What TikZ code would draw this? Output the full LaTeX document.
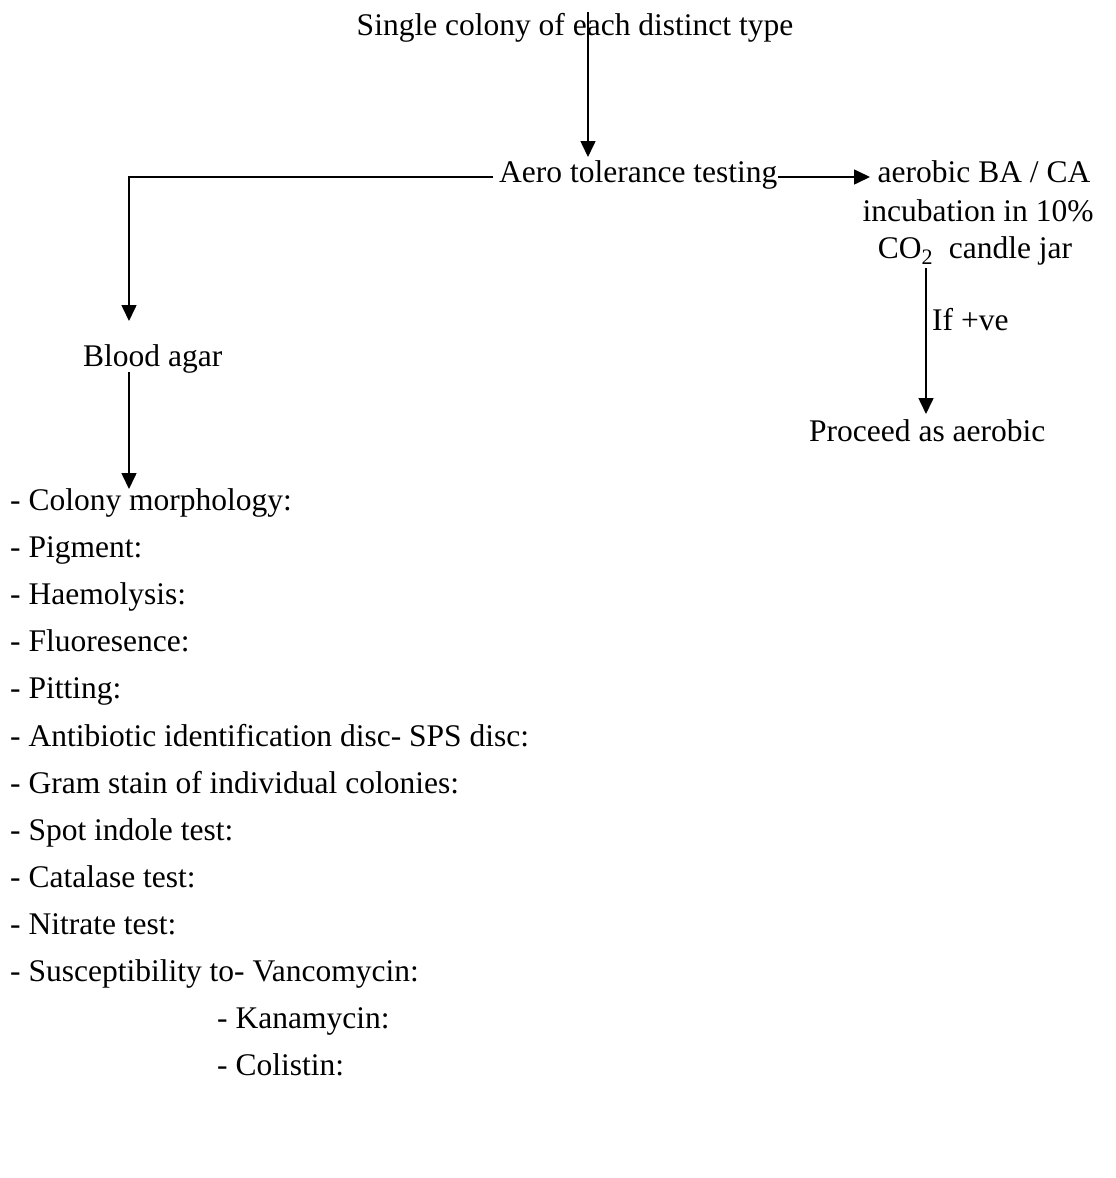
\documentclass[tikz,border=0pt]{standalone}
\usepackage{fontspec}
\setmainfont{Liberation Serif}
\usetikzlibrary{arrows.meta}
\begin{document}
\begin{tikzpicture}[x=1pt,y=-1pt,
  txt/.style={inner sep=0pt,anchor=base west,font=\fontsize{31.5}{38}\selectfont},
  ctxt/.style={inner sep=0pt,anchor=base,font=\fontsize{31.5}{38}\selectfont},
  conn/.style={line width=1.6pt},
  arr/.style={conn,-{Triangle[length=16pt,width=15pt]}}]
\useasboundingbox (0,0) rectangle (1116,1178);
% top
\node[ctxt] (top) at (575,35) {Single colony of each distinct type};
\node[txt] (aero) at (499,182) {Aero tolerance testing};
\node[ctxt] (aer1) at (984,182) {aerobic BA / CA};
\node[ctxt] (aer2) at (978,221) {incubation in 10\%};
\node[ctxt] (aer3) at (975,258) {CO\textsubscript{2}\ \ candle jar};
\node[txt] (ifve) at (932,330) {If +ve};
\node[txt] (proc) at (809,441) {Proceed as aerobic};
\node[txt] (blood) at (83,366) {Blood agar};
% list
\node[txt] (l1) at (10,510) {- Colony morphology:};
\node[txt] (l2) at (10,557) {- Pigment:};
\node[txt] (l3) at (10,604) {- Haemolysis:};
\node[txt] (l4) at (10,651) {- Fluoresence:};
\node[txt] (l5) at (10,698) {- Pitting:};
\node[txt] (l6) at (10,746) {- Antibiotic identification disc- SPS disc:};
\node[txt] (l7) at (10,793) {- Gram stain of individual colonies:};
\node[txt] (l8) at (10,840) {- Spot indole test:};
\node[txt] (l9) at (10,887) {- Catalase test:};
\node[txt] (l10) at (10,934) {- Nitrate test:};
\node[txt] (l11) at (10,981) {- Susceptibility to- Vancomycin:};
\node[txt] (l12) at (217,1028) {- Kanamycin:};
\node[txt] (l13) at (217,1075) {- Colistin:};
% connectors
\coordinate (c1) at (588,12);
\coordinate (c2) at (588,157);
\draw[arr] (c1) -- (c2);
\coordinate (c3) at (493,177);
\coordinate (c4) at (129,177);
\coordinate (c5) at (129,321);
\draw[arr] (c3) -- (c4) -- (c5);
\coordinate (c6) at (778,177);
\coordinate (c7) at (870,177);
\draw[arr] (c6) -- (c7);
\coordinate (c8) at (926,268);
\coordinate (c9) at (926,414);
\draw[arr] (c8) -- (c9);
\coordinate (c10) at (129,372);
\coordinate (c11) at (129,489);
\draw[arr] (c10) -- (c11);
\end{tikzpicture}
\end{document}
